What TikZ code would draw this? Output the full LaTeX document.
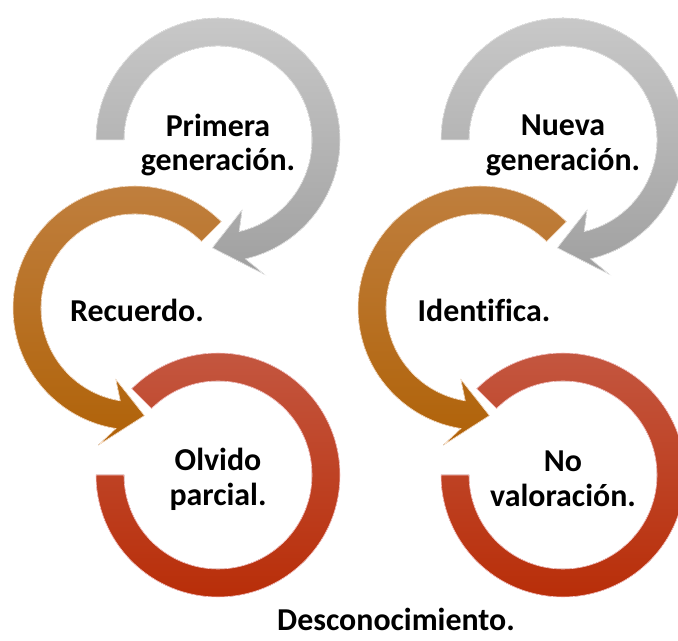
\documentclass[tikz,border=0pt]{standalone}
\usepackage{fontspec}
\setmainfont[Ligatures={NoCommon}]{Carlito}
\usepackage{tikz}

\begin{document}
\begin{tikzpicture}[x=1bp, y=1bp, font=\bfseries\fontsize{32}{35}\selectfont]
  \tikzstyle{grayarrow}=[top color={rgb,255:red,200;green,200;blue,200}, bottom color={rgb,255:red,160;green,160;blue,160}, draw=white!85!gray, line width=0.6pt]
  \tikzstyle{orangearrow}=[top color={rgb,255:red,192;green,128;blue,64}, bottom color={rgb,255:red,176;green,98;blue,8}, draw=white!80!orange, line width=0.6pt]
  \tikzstyle{redarrow}=[top color={rgb,255:red,196;green,88;blue,66}, bottom color={rgb,255:red,184;green,44;blue,6}, draw=white!80!red, line width=0.6pt]
  \tikzstyle{label}=[align=center, text=black]
  \useasboundingbox (0,0) rectangle (678,641);
  \clip (0,0) rectangle (678,641);
  % ring centres
  \coordinate (gl) at (218,501);
  \coordinate (ol) at (135,333);
  \coordinate (rl) at (218,166);
  \coordinate (gr) at (563,501);
  \coordinate (or) at (480,333);
  \coordinate (rr) at (563,166);
  % left column
  \fill[grayarrow, shift={(gl)}] (180:94) -- (180:122) arc[start angle=180, end angle=-77, radius=122]
       -- (-71:142) -- (-93:108) -- (-71:74) -- (-77:94) arc[start angle=-77, end angle=180, radius=94] -- cycle;
  \fill[orangearrow, shift={(ol)}] (45:94) -- (45:122) arc[start angle=45, end angle=261, radius=122]
       -- (255:142) -- (275:108) -- (255:74) -- (261:94) arc[start angle=261, end angle=45, radius=94] -- cycle;
  \fill[redarrow, shift={(rl)}] (135:94) -- (135:122) arc[start angle=135, end angle=-180, radius=122]
       -- (180:94) arc[start angle=-180, end angle=135, radius=94] -- cycle;
  % right column
  \fill[grayarrow, shift={(gr)}] (180:94) -- (180:122) arc[start angle=180, end angle=-77, radius=122]
       -- (-71:142) -- (-93:108) -- (-71:74) -- (-77:94) arc[start angle=-77, end angle=180, radius=94] -- cycle;
  \fill[orangearrow, shift={(or)}] (45:94) -- (45:122) arc[start angle=45, end angle=261, radius=122]
       -- (255:142) -- (275:108) -- (255:74) -- (261:94) arc[start angle=261, end angle=45, radius=94] -- cycle;
  \fill[redarrow, shift={(rr)}] (135:94) -- (135:122) arc[start angle=135, end angle=-180, radius=122]
       -- (180:94) arc[start angle=-180, end angle=135, radius=94] -- cycle;
  % texts
  \node[label] (primera)   at (218,496) {Primera\\generación.};
  \node[label] (recuerdo)  at (137,331) {Recuerdo.};
  \node[label] (olvido)    at (218,162) {Olvido\\parcial.};
  \node[label] (nueva)     at (563,496) {Nueva\\generación.};
  \node[label] (identif)   at (484,331) {Identifica.};
  \node[label] (novalor)   at (563,162) {No\\valoración.};
  \node[label, anchor=base, inner sep=1pt] (desconoc) at (396,10) {Desconocimiento.};
\end{tikzpicture}
\end{document}
